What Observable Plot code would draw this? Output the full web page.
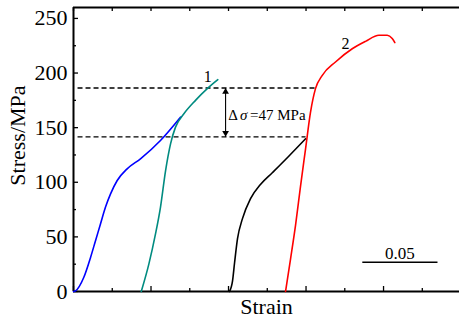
<!DOCTYPE html>
<html><head><meta charset="utf-8">
<script src="https://cdn.jsdelivr.net/npm/d3@7"></script>
<script src="https://cdn.jsdelivr.net/npm/@observablehq/plot@0.6"></script>
<style>
body{margin:0;background:#fff;}
svg{display:block;}
#chart svg, #chart svg text { font-family: "Liberation Serif", "Times New Roman", serif !important; }
</style>
</head><body><div id="chart"></div>
<script>
// Curve data (strain, stress in MPa)
const blueStrain = [0, 0.0013, 0.0066, 0.0110, 0.0142, 0.0174, 0.0206, 0.0239, 0.0282, 0.0346, 0.0432, 0.0561, 0.0690];
const blueStress = [0, 0.6, 12.8, 31.2, 46.5, 61.8, 77.1, 89.4, 101.6, 112.3, 121.5, 138.3, 159.6];
const tealStrain = [0.0437, 0.0486, 0.0529, 0.0561, 0.0594, 0.0626, 0.0658, 0.0712, 0.0787, 0.0863, 0.0931];
const tealStress = [0, 25.1, 52.7, 77.1, 110.7, 135.2, 150.5, 162.7, 175.0, 185.7, 193.9];
const blackStrain = [0.1006, 0.1026, 0.1039, 0.1058, 0.1090, 0.1142, 0.1206, 0.1284, 0.1387, 0.1497];
const blackStress = [0, 9.8, 26.3, 48.3, 66.7, 85.0, 97.9, 108.9, 123.6, 139.8];
const redStrain = [0.1368, 0.1400, 0.1432, 0.1465, 0.1497, 0.1529, 0.1561, 0.1605, 0.1690, 0.1798, 0.1884, 0.1970, 0.2024, 0.2056, 0.2073];
const redStress = [0, 29.7, 60.3, 97.0, 130.6, 164.2, 185.7, 197.9, 210.1, 222.2, 229.0, 234.6, 234.6, 231.6, 227.9];

// Axis ticks
const yTicks = [0, 50, 100, 150, 200, 250];
const yMinor = [25, 75, 125, 175, 225];
const xMajor = [0, 0.05, 0.10, 0.15, 0.20, 0.25];
const xMinor = [0.025, 0.075, 0.125, 0.175, 0.225];
const xDomain = [0, 0.249];
const yDomain = [0, 260];

// Annotations
const dashLevels = [186.3, 141.6];
const dashStart = [0.0026, 0.0026];
const dashEnd = [0.1572, 0.1497];
const arrowStrain = [0.0981];
const deltaLabelStress = [157.2];
const curveLabels = ["1", "2"];
const curveLabelStrain = [0.0866, 0.1755];
const curveLabelStress = [196.3, 227.0];
const scaleBarStrain = [0.1863, 0.2348];
const scaleBarStress = [26.8];
const scaleBarLabel = ["0.05"];
const scaleBarLabelStress = [29.3];

const zip = (xs, ys) => xs.map((x, i) => ({x, y: ys[i]}));
const blue = zip(blueStrain, blueStress);
const teal = zip(tealStrain, tealStress);
const black = zip(blackStrain, blackStress);
const red = zip(redStrain, redStress);
const dashes = dashLevels.map((y, i) => ({x1: dashStart[i], x2: dashEnd[i], y}));
const arrowLink = [{x: arrowStrain[0], y1: dashLevels[0], y2: dashLevels[1]}];
const lbls = curveLabels.map((t, i) => ({t, x: curveLabelStrain[i], y: curveLabelStress[i]}));
const bar = [{x1: scaleBarStrain[0], x2: scaleBarStrain[1], y: scaleBarStress[0]}];
const barLabel = [{t: scaleBarLabel[0], x: (scaleBarStrain[0] + scaleBarStrain[1]) / 2, y: scaleBarLabelStress[0]}];
const dLbl = {x: arrowStrain[0], y: deltaLabelStress[0]};

const font = "Liberation Serif";
const noText = () => "";

const chart = Plot.plot({
  width: 459, height: 320,
  marginLeft: 73, marginRight: 0, marginTop: 7, marginBottom: 29,
  style: {fontFamily: font, background: "#fff", color: "#000"},
  x: {domain: xDomain, label: null},
  y: {domain: yDomain, label: null},
  marks: [
    // ticks (inward)
    Plot.axisY({ticks: yTicks, tickSize: 0, tickPadding: 6, fontSize: 22, fontFamily: font, label: null}),
    Plot.axisY({ticks: yTicks, tickSize: -5, tickFormat: noText, label: null, strokeWidth: 1.3}),
    Plot.axisY({ticks: yMinor, tickSize: -3, tickFormat: noText, label: null, strokeWidth: 1.3}),
    Plot.axisX({anchor: "bottom", ticks: xMajor, tickSize: -5, tickFormat: noText, label: null, strokeWidth: 1.3}),
    Plot.axisX({anchor: "bottom", ticks: xMinor, tickSize: -3, tickFormat: noText, label: null, strokeWidth: 1.3}),
    Plot.axisX({anchor: "top", ticks: xMajor.concat(xMinor), tickSize: -3, tickFormat: noText, label: null, strokeWidth: 1.3}),
    // frame (left, bottom, top)
    Plot.ruleX([xDomain[0]], {strokeWidth: 2}),
    Plot.ruleY([yDomain[0]], {strokeWidth: 2}),
    Plot.ruleY([yDomain[1]], {strokeWidth: 2}),
    // dashed reference lines
    Plot.link(dashes, {x1: "x1", x2: "x2", y1: "y", y2: "y", stroke: "#000", strokeWidth: 1.3, strokeDasharray: "5,3"}),
    // double arrow
    Plot.link(arrowLink, {x1: "x", x2: "x", y1: "y1", y2: "y2", stroke: "#000", strokeWidth: 1.1}),
    Plot.dot([{x: arrowStrain[0], y: dashLevels[0]}], {x: "x", y: "y", symbol: "triangle", r: 2.5, fill: "#000", stroke: null, dy: 3.9}),
    Plot.dot([{x: arrowStrain[0], y: dashLevels[1]}], {x: "x", y: "y", symbol: "triangle", r: 2.5, fill: "#000", stroke: null, rotate: 180, dy: -3.9}),
    Plot.text([dLbl], {x: "x", y: "y", text: () => "Δ", textAnchor: "start", lineAnchor: "bottom", dx: 2.7, fontSize: 15, fontFamily: font, fill: "#000"}),
    Plot.text([dLbl], {x: "x", y: "y", text: () => "σ", textAnchor: "start", lineAnchor: "bottom", dx: 14.5, fontSize: 15, fontFamily: font, fontStyle: "italic", fill: "#000"}),
    Plot.text([dLbl], {x: "x", y: "y", text: () => "=47 MPa", textAnchor: "start", lineAnchor: "bottom", dx: 24.5, fontSize: 15, fontFamily: font, fill: "#000"}),
    // curves
    Plot.line(blue, {x: "x", y: "y", stroke: "#0000ff", strokeWidth: 1.6, curve: "monotone-x"}),
    Plot.line(teal, {x: "x", y: "y", stroke: "#008b80", strokeWidth: 1.6, curve: "monotone-x"}),
    Plot.line(black, {x: "x", y: "y", stroke: "#000", strokeWidth: 1.6, curve: "monotone-x"}),
    Plot.line(red, {x: "x", y: "y", stroke: "#ff0000", strokeWidth: 1.6, curve: "monotone-x"}),
    // curve labels
    Plot.text(lbls, {x: "x", y: "y", text: "t", fontSize: 16, fontFamily: font, fill: "#000"}),
    // scale bar
    Plot.link(bar, {x1: "x1", x2: "x2", y1: "y", y2: "y", stroke: "#000", strokeWidth: 1.6}),
    Plot.text(barLabel, {x: "x", y: "y", text: "t", lineAnchor: "bottom", fontSize: 17, fontFamily: font, fill: "#000"}),
    // axis titles
    Plot.text(["Strain"], {frameAnchor: "bottom", lineAnchor: "middle", textAnchor: "middle", dy: 15, fontSize: 22, fontFamily: font, fill: "#000"}),
    Plot.text(["Stress/MPa"], {frameAnchor: "left", lineAnchor: "middle", textAnchor: "middle", dx: -56, dy: -14, rotate: -90, fontSize: 22, fontFamily: font, fill: "#000"})
  ]
});
document.getElementById("chart").appendChild(chart);
</script></body></html>
